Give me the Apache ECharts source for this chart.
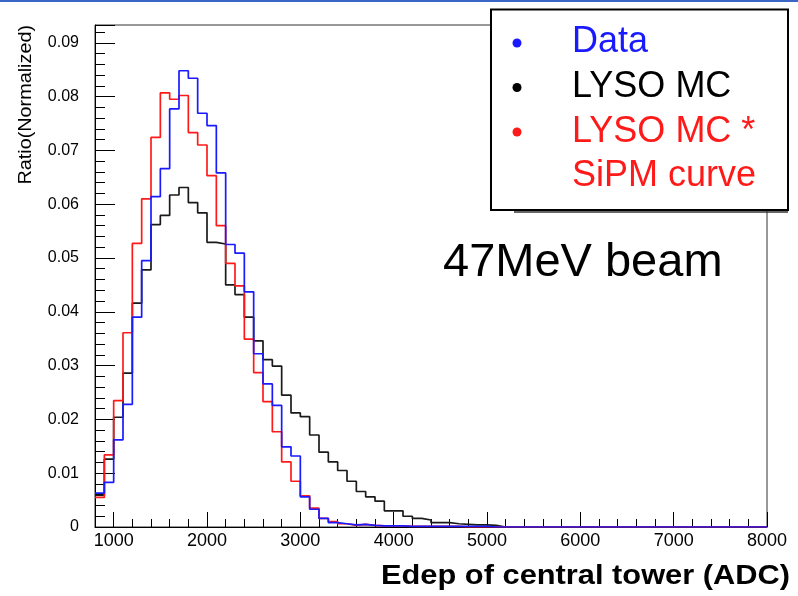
<!DOCTYPE html>
<html>
<head>
<meta charset="utf-8">
<script src="https://cdn.jsdelivr.net/npm/echarts@6/dist/echarts.min.js"></script>
<style>html,body{margin:0;padding:0;background:#fff;}#c{width:798px;height:596px;}</style>
</head>
<body>
<div id="c"></div>
<script>
// Histogram binning (ADC)
const binStart = 800;
const binWidth = 100;
const xMin = 800, xMax = 8000;
const yMin = 0, yMax = 0.0933;
const xMajorTicks = [1000, 2000, 3000, 4000, 5000, 6000, 7000, 8000];

// Bin contents, one value per 100-ADC bin from 800 to 8000
const dataValues = [
  0.0063, 0.0083, 0.0162, 0.0228, 0.0390, 0.0495, 0.0614, 0.0666, 0.0777, 0.0848,
  0.0834, 0.0769, 0.0746, 0.0658, 0.0525, 0.0509, 0.0437, 0.0322, 0.0266, 0.0226,
  0.0149, 0.0132, 0.0056, 0.0033, 0.0016, 0.0008, 0.0006, 0.0004, 0.0005, 0.0003,
  0.0002, 0.0002, 0.0002, 0.0001, 0.0001, 0.0001, 0.0001, 0.0001, 0.0001, 0.0001,
  0.0001, 0.0001, 0, 0, 0, 0, 0, 0, 0, 0,
  0, 0, 0, 0, 0, 0, 0, 0, 0, 0,
  0, 0, 0, 0, 0, 0, 0, 0, 0, 0,
  0, 0
];
const lysoMcValues = [
  0.0059, 0.0126, 0.0204, 0.0286, 0.0416, 0.0478, 0.0562, 0.0579, 0.0617, 0.0631,
  0.0603, 0.0584, 0.0529, 0.0526, 0.0450, 0.0432, 0.0390, 0.0346, 0.0311, 0.0299,
  0.0245, 0.0212, 0.0205, 0.0171, 0.0139, 0.0121, 0.0105, 0.0085, 0.0066, 0.0056,
  0.0048, 0.0030, 0.0030, 0.0020, 0.0016, 0.0013, 0.0008, 0.0008, 0.0006, 0.0005,
  0.0004, 0.0004, 0.0003, 0, 0, 0, 0, 0, 0, 0,
  0, 0, 0, 0, 0, 0, 0, 0, 0, 0,
  0, 0, 0, 0, 0, 0, 0, 0, 0, 0,
  0, 0
];
const lysoSipmValues = [
  0.0055, 0.0134, 0.0235, 0.0361, 0.0527, 0.0610, 0.0724, 0.0807, 0.0795, 0.0802,
  0.0733, 0.0710, 0.0653, 0.0560, 0.0490, 0.0448, 0.0349, 0.0287, 0.0233, 0.0177,
  0.0121, 0.0085, 0.0058, 0.0035, 0.0016, 0.0010, 0.0006, 0.0003, 0.0005, 0.0003,
  0.0002, 0.0002, 0.0002, 0.0001, 0.0001, 0.0001, 0.0001, 0.0001, 0.0001, 0,
  0, 0, 0, 0, 0, 0, 0, 0, 0, 0,
  0, 0, 0, 0, 0, 0, 0, 0, 0, 0,
  0, 0, 0, 0, 0, 0, 0, 0, 0, 0,
  0, 0
];

const legendLabels = ['Data', 'LYSO MC', 'LYSO MC *', 'SiPM curve'];
const beamLabel = '47MeV beam';
const xTitle = 'Edep of central tower (ADC)';
const yTitle = 'Ratio(Normalized)';

function toSteps(vals) {
  const pts = vals.map((v, i) => [binStart + i * binWidth, v]);
  pts.push([binStart + vals.length * binWidth, vals[vals.length - 1]]);
  return pts;
}

const FONT = '"Liberation Sans", Arial, Helvetica, sans-serif';
const chart = echarts.init(document.getElementById('c'), null, {renderer: 'canvas'});

function yFmt(v) {
  const k = Math.round(v * 1000);
  if (Math.abs(v * 1000 - k) > 1e-6 || k % 10 !== 0) return '';
  return k === 0 ? '0' : (k / 1000).toFixed(2);
}
function xFmt(v) {
  const r = Math.round(v);
  return (r % 1000 === 0 && Math.abs(v - r) < 1e-6) ? String(r) : '';
}

const stepLine = (name, vals, color) => ({
  name: name, type: 'line', step: 'end', data: toSteps(vals),
  xAxisIndex: 0, yAxisIndex: 0, symbol: 'none', clip: true,
  lineStyle: {color: color, width: 1.7}, itemStyle: {color: color},
  animation: false
});

chart.setOption({
  backgroundColor: '#ffffff',
  animation: false,
  grid: {left: 95, right: 31, top: 25, bottom: 69, show: true, borderColor: '#333', borderWidth: 1, backgroundColor: 'transparent'},
  xAxis: [
    {
      type: 'value', min: xMin, max: xMax, interval: 200,
      axisLine: {show: true, onZero: false, lineStyle: {color: '#000', width: 1}},
      axisTick: {show: true, inside: true, length: 8, lineStyle: {color: '#000', width: 1}},
      splitLine: {show: false},
      axisLabel: {show: true, formatter: xFmt, fontFamily: FONT, fontSize: 18, color: '#000', margin: 5, hideOverlap: false, showMinLabel: true, showMaxLabel: true}
    },
    {
      type: 'value', min: xMin, max: xMax, position: 'bottom', offset: 0,
      axisLine: {show: true, onZero: false, lineStyle: {color: '#000', width: 1, opacity: 0}},
      axisTick: {show: true, inside: true, length: 15, customValues: xMajorTicks, lineStyle: {color: '#000', width: 1}},
      axisLabel: {show: false},
      splitLine: {show: false}
    }
  ],
  yAxis: [
    {
      type: 'value', min: yMin, max: yMax, interval: 0.01,
      axisLine: {show: true, onZero: false, lineStyle: {color: '#000', width: 1}},
      axisTick: {show: true, inside: true, length: 20, lineStyle: {color: '#000', width: 1}},
      minorTick: {show: true, splitNumber: 5, length: 10, lineStyle: {color: '#000', width: 1}},
      splitLine: {show: false},
      axisLabel: {show: true, formatter: yFmt, fontFamily: FONT, fontSize: 16, color: '#000', margin: 16, showMinLabel: true, showMaxLabel: true}
    }
  ],
  series: [
    stepLine('LYSO MC', lysoMcValues, '#1a1a1a'),
    stepLine('LYSO MC * SiPM curve', lysoSipmValues, '#ff1a1a'),
    stepLine('Data', dataValues, '#1a1aff')
  ],
  graphic: [
    {type: 'rect', z: 100, shape: {x: 0, y: 0, width: 798, height: 2}, style: {fill: '#3a66c6'}},
    {type: 'text', z: 100, x: 26, y: 25, rotation: Math.PI / 2, scaleX: 1.1,
      style: {text: yTitle, fontFamily: FONT, fontSize: 18, fill: '#000', align: 'right', verticalAlign: 'middle'}},
    {type: 'text', z: 100, x: 790, y: 576.5, scaleX: 1.1,
      style: {text: xTitle, fontFamily: FONT, fontSize: 28, fontWeight: 'bold', fill: '#000', align: 'right', verticalAlign: 'middle'}},
    {type: 'text', z: 100, x: 443, y: 263,
      style: {text: beamLabel, fontFamily: FONT, fontSize: 47, fill: '#000', align: 'left', verticalAlign: 'middle'}},
    {type: 'line', z: 100, shape: {x1: 514, y1: 212, x2: 788, y2: 212}, style: {stroke: '#333', lineWidth: 1.5}},
    {type: 'rect', z: 101, shape: {x: 491, y: 9.5, width: 297, height: 200.5}, style: {fill: '#fff', stroke: '#000', lineWidth: 2}},
    {type: 'circle', z: 102, shape: {cx: 517, cy: 43, r: 4.5}, style: {fill: '#1a1aff'}},
    {type: 'circle', z: 102, shape: {cx: 517, cy: 87.5, r: 4.5}, style: {fill: '#000'}},
    {type: 'circle', z: 102, shape: {cx: 517, cy: 132, r: 4.5}, style: {fill: '#ff1a1a'}},
    {type: 'text', z: 102, x: 572, y: 42.5, style: {text: legendLabels[0], fontFamily: FONT, fontSize: 36, fill: '#1a1aff', align: 'left', verticalAlign: 'middle'}},
    {type: 'text', z: 102, x: 572, y: 87.5, style: {text: legendLabels[1], fontFamily: FONT, fontSize: 36, fill: '#000', align: 'left', verticalAlign: 'middle'}},
    {type: 'text', z: 102, x: 572, y: 132.5, style: {text: legendLabels[2], fontFamily: FONT, fontSize: 36, fill: '#ff1a1a', align: 'left', verticalAlign: 'middle'}},
    {type: 'text', z: 102, x: 572, y: 176.5, style: {text: legendLabels[3], fontFamily: FONT, fontSize: 36, fill: '#ff1a1a', align: 'left', verticalAlign: 'middle'}}
  ]
});
</script>
</body>
</html>
